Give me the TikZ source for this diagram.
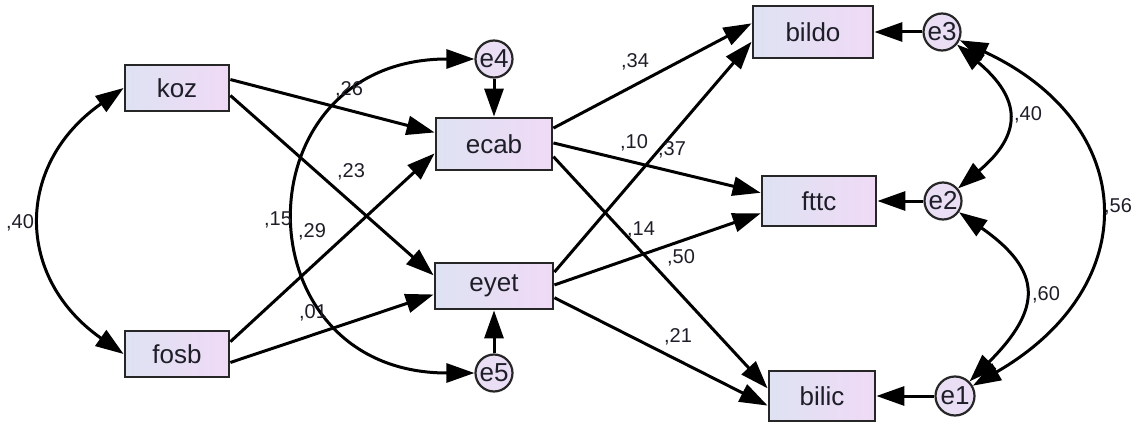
\documentclass[tikz,border=0pt]{standalone}
\usepackage{fontspec}
\setmainfont{Liberation Sans}
\usetikzlibrary{arrows.meta}

\definecolor{boxl}{RGB}{222,226,242}
\definecolor{boxr}{RGB}{240,218,246}
\definecolor{errfill}{RGB}{233,222,243}
\definecolor{ink}{RGB}{30,30,40}

\begin{document}
\begin{tikzpicture}[x=1pt,y=1pt]
\tikzstyle{every node}+=[inner sep=0pt,text=ink]
\tikzstyle{obs}=[draw=black!85,line width=2.8pt,left color=boxl,right color=boxr,minimum width=104pt,minimum height=46pt,font=\fontsize{26}{28}\selectfont]
\tikzstyle{res}=[circle,draw=black!85,line width=2.2pt,fill=errfill,minimum size=37pt,font=\fontsize{26}{28}\selectfont]
\tikzstyle{reg}=[draw=black,line width=3pt,-{Triangle[length=28pt,width=19pt]}]
\tikzstyle{cov}=[draw=black,line width=3pt,{Triangle[length=28pt,width=19pt]}-{Triangle[length=28pt,width=19pt]}]
\tikzstyle{lbl}=[font=\fontsize{20}{22}\selectfont]
\useasboundingbox (0,0) rectangle (1144,432);

\node[obs] (koz) at (177,344) {koz};
\node[obs] (fosb) at (177,78) {fosb};
\node[obs,minimum width=116pt,minimum height=52pt] (ecab) at (494,288) {ecab};
\node[obs,minimum width=118pt] (eyet) at (494,146) {eyet};
\node[obs,minimum width=120pt,minimum height=52pt] (bildo) at (813,400) {bildo};
\node[obs,minimum width=114pt,minimum height=50pt] (fttc) at (819,231) {fttc};
\node[obs,minimum width=106pt,minimum height=50pt] (bilic) at (822,36) {bilic};

\node[res] (e4) at (494,373) {e4};
\node[res] (e5) at (494,59) {e5};
\node[res] (e3) at (942,400) {e3};
\node[res] (e2) at (943,231) {e2};
\node[res,minimum size=39pt] (e1) at (955,36) {e1};

\draw[reg] (koz.9) -- (ecab.169);
\draw[reg] (koz.-8) -- (eyet.170);
\draw[reg] (fosb.13) -- (ecab.189);
\draw[reg] (fosb.-9) -- (eyet.188);
\draw[reg] (e4) -- (ecab);
\draw[reg] (e5) -- (eyet);
\draw[reg] (ecab.15) -- (bildo.172);
\draw[reg] (ecab.1) -- (fttc.172);
\draw[reg] (ecab.-12) -- (bilic.172);
\draw[reg] (eyet.13) -- (bildo.189);
\draw[reg] (eyet.1) -- (fttc.192);
\draw[reg] (eyet.-11) -- (bilic.190);
\draw[reg] (e3) -- (bildo);
\draw[reg] (e2) -- (fttc);
\draw[reg] (e1) -- (bilic);

\draw[cov] (koz.west) to[out=215,in=145,looseness=1.28] (fosb.west);
\draw[cov] (e4.west) to[out=180,in=180,looseness=1.93] (e5.west);
\draw[cov] (e3.-40) to[out=-40,in=40,looseness=1.5] (e2.40);
\draw[cov] (e2.-35) to[out=-35,in=45,looseness=1.55] (e1.45);
\draw[cov] (e3.-25) to[out=-25,in=30,looseness=1.47] (e1.30);

\node[lbl] (r1) at (20,209) {,40};
\node[lbl] (b1) at (349,342) {,26};
\node[lbl] (b2) at (351,260) {,23};
\node[lbl] (r2) at (278,212) {,15};
\node[lbl] (b3) at (312,200) {,29};
\node[lbl] (b4) at (313,119) {,01};
\node[lbl] (b5) at (635,370) {,34};
\node[lbl] (b6) at (634,289) {,10};
\node[lbl] (b7) at (672,282) {,37};
\node[lbl] (b8) at (641,202) {,14};
\node[lbl] (b9) at (681,174) {,50};
\node[lbl] (b10) at (678,95) {,21};
\node[lbl] (r3) at (1028,317) {,40};
\node[lbl] (r4) at (1046,137) {,60};
\node[lbl] (r5) at (1118,225) {,56};
\end{tikzpicture}
\end{document}
